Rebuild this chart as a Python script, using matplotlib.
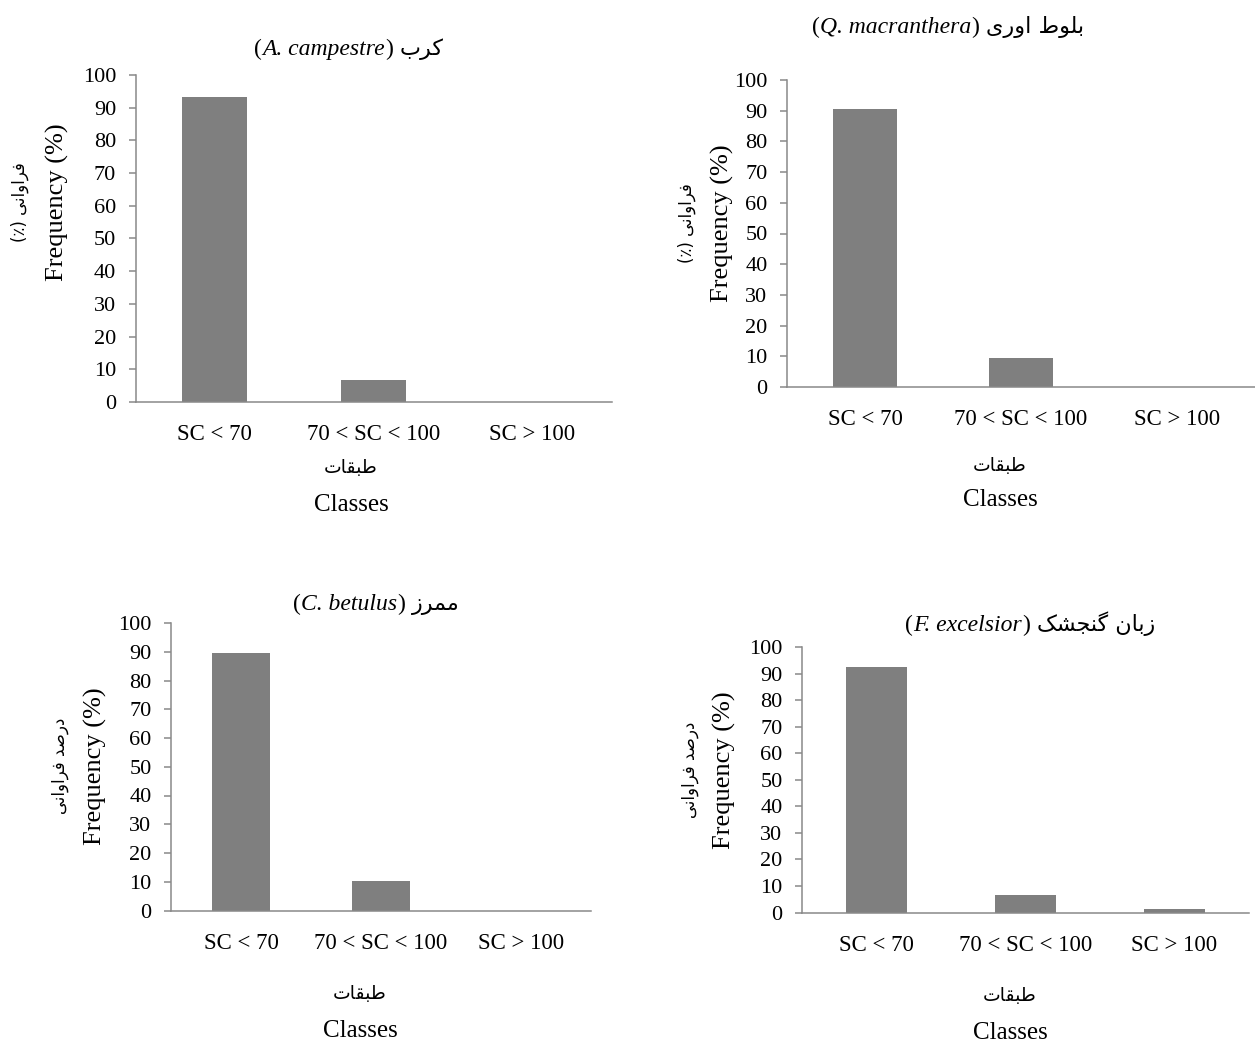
import matplotlib
matplotlib.use("Agg")
import matplotlib.pyplot as plt
import numpy as np

W, H = 1255, 1046

# data
classes = ['SC < 70', '70 < SC < 100', 'SC > 100']
acer_freq = [93.4, 6.6, 0.0]
quercus_freq = [90.5, 9.5, 0.0]
carpinus_freq = [89.6, 10.4, 0.0]
fraxinus_freq = [92.3, 6.5, 1.2]

# Persian text, written as presentation forms in visual (left to right) order
fa_karab = '\uFE8F\uFEAE\uFB90'                          # کرب
fa_baloot = '\uFEC1\uFEEE\uFEE0\uFE91'                   # بلوط
fa_oori = '\uFBFC\uFEAD\uFEED\uFE8D'                     # اوری
fa_mamraz = '\uFEAF\uFEAE\uFEE4\uFEE3'                   # ممرز
fa_zaban = '\uFEE5\uFE8E\uFE91\uFEAF'                    # زبان
fa_gonjeshk = '\uFB8F\uFEB8\uFEA0\uFEE8\uFB94'           # گنجشک
fa_faravani = '\uFBFD\uFEE7\uFE8D\uFEED\uFE8D\uFEAE\uFED3'  # فراوانی
fa_darsad = '\uFEAA\uFEBB\uFEAD\uFEA9'                   # درصد
fa_tabaghat = '\uFE95\uFE8E\uFED8\uFE92\uFEC3'           # طبقات

SERIF = 'Liberation Serif'
FA = 'DejaVu Sans'
BAR = '#7f7f7f'
AXC = '#898989'

fig = plt.figure(figsize=(W / 100, H / 100), dpi=100)


def fx(px):
    return px / W


def fy(py):
    return 1 - py / H


def panel(box, values, ylab_fa, ylab_x, ylab_y, xlab_x, ylab_fa_x,
          xlab_fa_y, xlab_en_y, pad):
    l, t, r, b = box
    ax = fig.add_axes([fx(l), fy(b), fx(r - l), (b - t) / H])
    ax.bar(np.arange(len(classes)), values, width=0.41, color=BAR, zorder=2)
    ax.set_xlim(-0.5, 2.5)
    ax.set_ylim(0, 100)
    ax.set_yticks(np.arange(0, 101, 10))
    ax.set_xticks(np.arange(len(classes)))
    ax.set_xticklabels(classes)
    for s in ['top', 'right']:
        ax.spines[s].set_visible(False)
    for s in ['left', 'bottom']:
        ax.spines[s].set_color(AXC)
        ax.spines[s].set_linewidth(1.1)
    ax.tick_params(axis='y', length=5, width=1.1, color=AXC, pad=9,
                   labelsize=16)
    ax.tick_params(axis='x', length=0, pad=pad, labelsize=16.5)
    for lab in ax.get_xticklabels() + ax.get_yticklabels():
        lab.set_family(SERIF)
    fig.text(fx(ylab_x), fy(ylab_y), 'Frequency (%)', rotation=90,
             ha='center', va='center', family=SERIF, fontsize=19)
    fig.text(fx(ylab_fa_x), fy(ylab_y), ylab_fa, rotation=90,
             ha='center', va='center', family=FA, fontsize=12)
    fig.text(fx(xlab_x), fy(xlab_fa_y), fa_tabaghat, ha='center',
             va='center', family=FA, fontsize=13.5)
    fig.text(fx(xlab_x), fy(xlab_en_y), 'Classes', ha='center',
             va='center', family=SERIF, fontsize=18)
    return ax


def rich_title(cx, base_y, pieces):
    texts = []
    for s, kw in pieces:
        texts.append(fig.text(0, fy(base_y), s, ha='left', va='baseline', **kw))
    r = fig.canvas.get_renderer()
    widths = [t.get_window_extent(r).width for t in texts]
    gap = 7
    total = sum(widths) + gap
    x = cx - total / 2
    for i, (t, w) in enumerate(zip(texts, widths)):
        t.set_x(fx(x))
        x += w
        if i == len(texts) - 2:
            x += gap


def title_pieces(latin, persian):
    up = dict(family=SERIF, fontsize=17)
    it = dict(family=SERIF, fontsize=17, style='italic')
    fa = dict(family=FA, fontsize=16)
    return [('(', up), (latin, it), (')', up), (persian, fa)]


ylab1 = '(\u066A) ' + fa_faravani
ylab2 = fa_faravani + ' ' + fa_darsad

panel((135.5, 75, 611.5, 402), acer_freq, ylab1, 57, 202, 351, 20, 467, 505, 15.5)
panel((787, 80, 1255, 387), quercus_freq, ylab1, 722, 223, 1000, 687, 465, 500, 16)
panel((171, 623, 591, 910.5), carpinus_freq, ylab2, 95, 766, 360, 60, 994, 1031, 16)
panel((802, 647, 1249, 912.5), fraxinus_freq, ylab2, 724, 770, 1010, 690, 996, 1033, 16)

rich_title(349, 55, title_pieces('A. campestre', fa_karab))
rich_title(948, 33, title_pieces('Q. macranthera', fa_oori + ' ' + fa_baloot))
rich_title(376, 610, title_pieces('C. betulus', fa_mamraz))
rich_title(1030, 631, title_pieces('F. excelsior', fa_gonjeshk + ' ' + fa_zaban))

fig.savefig('out.png', dpi=100)
